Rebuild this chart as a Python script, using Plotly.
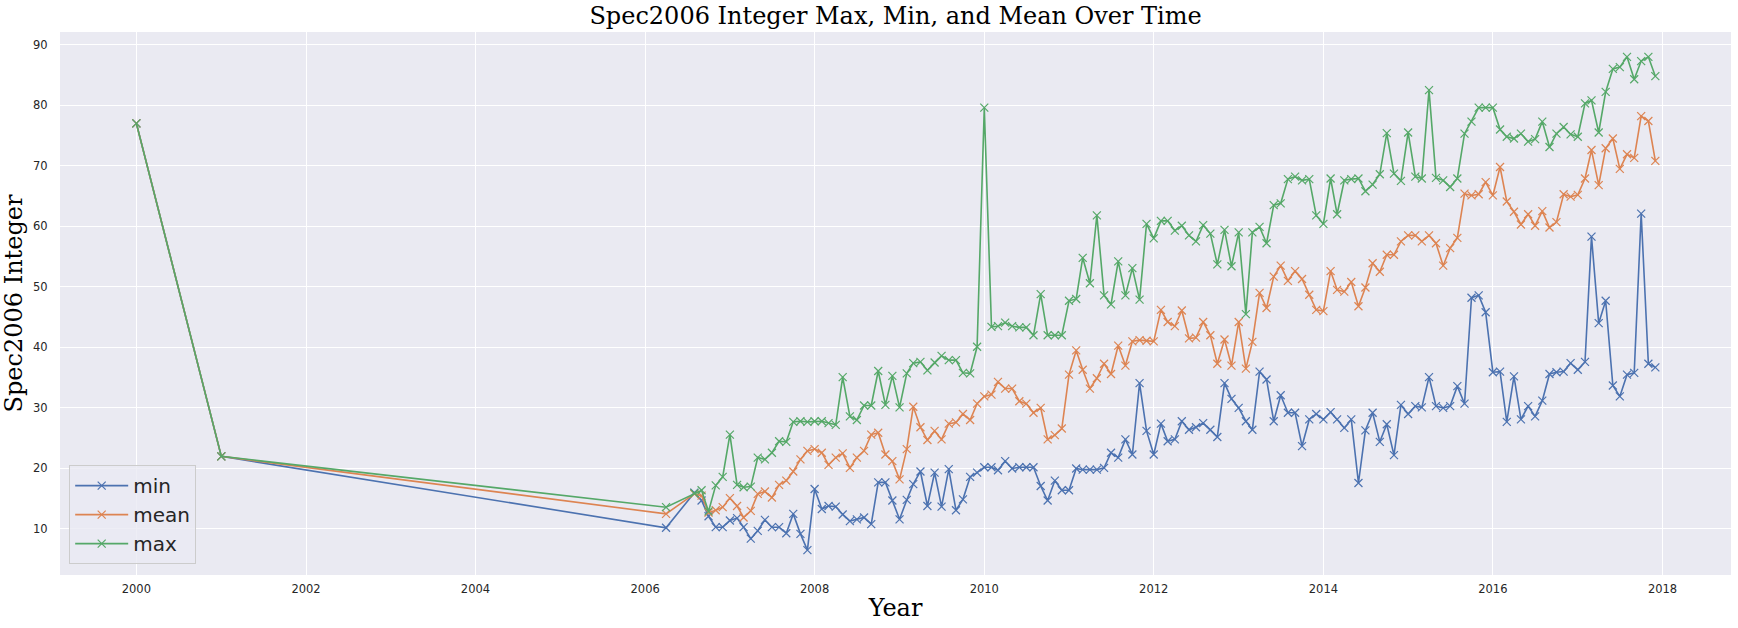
import plotly.graph_objects as go

# ---- data -------------------------------------------------------------
early_dates = ["2000-01-01", "2001-01-01", "2006-04-01"]
early_min = [77.0, 22.0, 10.2]
early_mean = [77.0, 22.0, 12.5]
early_max = [77.0, 22.0, 13.6]

# monthly values, Aug 2006 .. Dec 2017
years = list(range(2006, 2018))
min_by_year = {
    2006: [16.0, 14.7, 12.1, 10.3, 10.3],
    2007: [11.4, 11.8, 10.3, 8.4, 9.7, 11.5, 10.3, 10.3, 9.3, 12.5, 9.2, 6.5],
    2008: [16.6, 13.3, 13.8, 13.7, 12.4, 11.3, 11.6, 11.9, 10.8, 17.7, 17.7, 14.7],
    2009: [11.6, 14.8, 17.4, 19.5, 13.8, 19.3, 13.7, 19.9, 13.1, 14.9, 18.6, 19.3],
    2010: [20.2, 20.2, 19.7, 21.2, 20.0, 20.2, 20.2, 20.2, 17.1, 14.7, 18.0, 16.4],
    2011: [16.4, 20.0, 19.8, 19.8, 19.8, 20.1, 22.6, 21.8, 24.8, 22.3, 34.1, 26.2],
    2012: [22.3, 27.4, 24.5, 24.8, 27.8, 26.4, 26.8, 27.5, 26.4, 25.2, 34.1, 31.5],
    2013: [30.0, 27.8, 26.4, 36.0, 34.7, 27.8, 32.1, 29.2, 29.2, 23.7, 28.1, 29.0],
    2014: [28.1, 29.3, 28.1, 26.7, 28.1, 17.6, 26.3, 29.2, 24.4, 27.3, 22.2, 30.5],
    2015: [29.0, 30.3, 30.1, 35.1, 30.3, 30.0, 30.3, 33.6, 30.7, 48.2, 48.6, 45.8],
    2016: [35.9, 36.0, 27.7, 35.2, 28.1, 30.3, 28.6, 31.2, 35.6, 35.9, 36.0, 37.4],
    2017: [36.3, 37.6, 58.3, 44.0, 47.7, 33.7, 31.9, 35.5, 35.8, 62.1, 37.3, 36.7],
}
mean_by_year = {
    2006: [15.8, 15.5, 12.7, 13.1, 13.6],
    2007: [15.1, 13.8, 11.9, 13.0, 15.8, 16.2, 15.2, 17.3, 18.0, 19.5, 21.5, 22.9],
    2008: [23.2, 22.6, 20.6, 21.8, 22.5, 20.1, 21.8, 22.9, 25.6, 25.9, 22.3, 21.2],
    2009: [18.2, 23.2, 30.2, 26.8, 24.7, 26.2, 24.8, 27.4, 27.6, 29.0, 28.0, 30.7],
    2010: [31.9, 32.2, 34.3, 33.2, 33.2, 31.1, 30.7, 29.2, 30.0, 24.8, 25.5, 26.6],
    2011: [35.5, 39.5, 36.3, 33.2, 34.9, 37.3, 35.6, 40.3, 37.0, 41.0, 41.2, 41.1],
    2012: [41.0, 46.2, 44.2, 43.5, 46.1, 41.5, 41.6, 44.2, 42.0, 37.3, 41.3, 37.0],
    2013: [44.2, 36.5, 40.9, 49.0, 46.5, 51.7, 53.5, 51.0, 52.6, 51.3, 48.7, 46.2],
    2014: [46.0, 52.6, 49.5, 49.2, 50.8, 46.8, 49.9, 53.9, 52.5, 55.3, 55.3, 57.5],
    2015: [58.5, 58.5, 57.5, 58.5, 57.2, 53.5, 56.4, 58.1, 65.4, 65.1, 65.3, 67.3],
    2016: [65.1, 69.8, 64.1, 62.4, 60.3, 62.0, 60.1, 62.5, 59.8, 60.7, 65.3, 64.9],
    2017: [65.2, 67.9, 72.6, 66.8, 72.9, 74.5, 69.5, 71.9, 71.3, 78.2, 77.4, 70.8],
}
max_by_year = {
    2006: [15.9, 16.4, 12.9, 17.2, 18.6],
    2007: [25.6, 17.3, 16.9, 17.0, 21.8, 21.5, 22.6, 24.5, 24.4, 27.7, 27.8, 27.7],
    2008: [27.8, 27.8, 27.5, 27.2, 35.1, 28.6, 28.0, 30.4, 30.4, 36.1, 30.5, 35.3],
    2009: [30.1, 35.7, 37.4, 37.6, 36.2, 37.5, 38.6, 37.9, 37.9, 35.8, 35.7, 40.1],
    2010: [79.6, 43.4, 43.5, 44.1, 43.5, 43.3, 43.3, 42.0, 48.8, 42.0, 42.0, 42.0],
    2011: [47.7, 48.0, 54.8, 50.6, 61.8, 48.6, 47.1, 54.2, 48.6, 53.1, 47.9, 60.4],
    2012: [58.0, 60.9, 60.9, 59.3, 60.1, 58.5, 57.5, 60.2, 58.8, 53.7, 59.4, 53.4],
    2013: [59.0, 45.5, 59.0, 59.9, 57.2, 63.5, 63.8, 67.8, 68.2, 67.6, 67.8, 61.8],
    2014: [60.4, 67.9, 62.0, 67.6, 67.8, 67.9, 65.8, 66.9, 68.6, 75.4, 68.7, 67.5],
    2015: [75.5, 68.2, 67.9, 82.5, 68.0, 67.6, 66.5, 67.9, 75.3, 77.3, 79.6, 79.6],
    2016: [79.6, 76.0, 74.8, 74.5, 75.3, 74.0, 74.4, 77.3, 73.1, 75.3, 76.4, 75.2],
    2017: [74.8, 80.3, 80.8, 75.5, 82.2, 86.0, 86.3, 88.0, 84.3, 87.3, 88.0, 84.8],
}
first_month = {2006: 8}

series_names = ["min", "mean", "max"]
series_colors = ["#4C72B0", "#DD8452", "#55A868"]


def build(early, by_year):
    dates = list(early_dates)
    vals = list(early)
    for y in years:
        m0 = first_month.get(y, 1)
        for i, v in enumerate(by_year[y]):
            dates.append(f"{y}-{m0 + i:02d}-01")
            vals.append(v)
    return dates, vals


data = [build(early_min, min_by_year),
        build(early_mean, mean_by_year),
        build(early_max, max_by_year)]

# ---- figure -----------------------------------------------------------
fig = go.Figure()
for (d, v), name, col in zip(data, series_names, series_colors):
    fig.add_trace(go.Scatter(
        x=d, y=v, name=name, mode="lines+markers",
        line=dict(color=col, width=1.6),
        marker=dict(symbol="x-thin", size=8, color=col,
                    line=dict(color=col, width=1.2)),
    ))

serif = "DejaVu Serif"
sans = "DejaVu Sans"

fig.update_layout(
    width=1738, height=628,
    margin=dict(l=60, r=7, t=32, b=53),
    paper_bgcolor="white",
    plot_bgcolor="#EAEAF2",
    font=dict(family=sans, color="#262626"),
    title=dict(text="Spec2006 Integer Max, Min, and Mean Over Time",
               font=dict(family=serif, size=24, color="black"),
               x=0.5153, xanchor="center", xref="container",
               y=1 - 16 / 628, yanchor="middle", yref="container"),
    legend=dict(x=0.0055, y=0.02, xanchor="left", yanchor="bottom",
                bgcolor="rgba(234,234,242,0.8)", bordercolor="#cccccc",
                borderwidth=1, font=dict(family=sans, size=20, color="#262626"),
                itemwidth=53, tracegroupgap=0),
    showlegend=True,
)

fig.update_xaxes(
    type="date",
    range=["1999-02-06", "2018-10-23"],
    tick0="2000-01-01", dtick="M24", tickformat="%Y",
    showgrid=True, gridcolor="white", gridwidth=1.3,
    zeroline=False, showline=False,
    ticks="outside", ticklen=3, tickcolor="rgba(0,0,0,0)",
    tickfont=dict(family=sans, size=11.5, color="#262626"),
    title=dict(text="Year", font=dict(family=serif, size=24, color="black"),
               standoff=4),
)
fig.update_yaxes(
    range=[2.4, 92.1],
    tickvals=[10, 20, 30, 40, 50, 60, 70, 80, 90],
    showgrid=True, gridcolor="white", gridwidth=1.3,
    zeroline=False, showline=False,
    ticks="outside", ticklen=9, tickcolor="rgba(0,0,0,0)",
    tickfont=dict(family=sans, size=11.5, color="#262626"),
    title=dict(text="Spec2006 Integer", font=dict(family=serif, size=24, color="black"),
               standoff=4),
)

fig.write_html("out.html")
